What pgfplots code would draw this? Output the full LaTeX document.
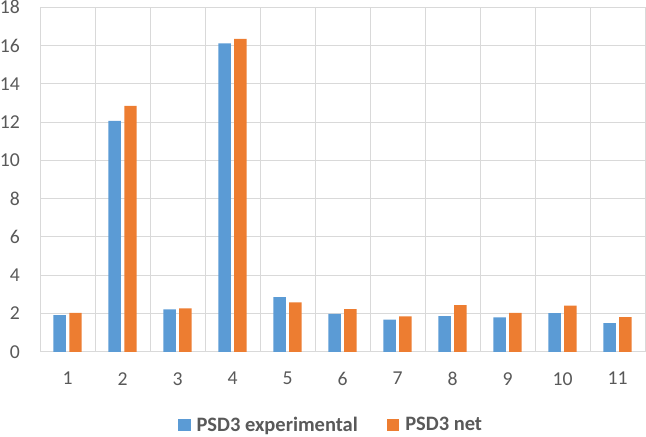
\documentclass[border=0pt]{standalone}
\usepackage{pgfplots}
\pgfplotsset{compat=1.18}
\usepackage{fontspec}
\setmainfont{Carlito}
\definecolor{xblue}{HTML}{5B9BD5}
\definecolor{xorange}{HTML}{ED7D31}
\definecolor{xgrid}{HTML}{D9D9D9}
\definecolor{xtext}{HTML}{595959}
\begin{document}
\begin{tikzpicture}
\begin{axis}[
  scale only axis,
  width=606bp, height=345.2bp,
  xmin=0.5, xmax=11.5,
  ymin=0, ymax=18,
  ybar=3.3bp, bar width=12.5bp,
  xtick={1,...,11},
  minor xtick={0.5,1.5,...,11.5},
  ytick={0,2,...,18},
  xminorgrids, ymajorgrids,
  grid style={xgrid, line width=1bp},
  minor grid style={xgrid, line width=1bp},
  axis line style={xgrid, line width=1bp},
  major tick length=0pt, minor tick length=0pt,
  tick style={draw=none},
  /pgf/number format/assume math mode=true,
  ticklabel style={font=\fontsize{19.8}{23}\selectfont, text=xtext},
  yticklabel style={inner sep=0pt, xshift=-20bp},
  xticklabel style={inner sep=0pt, yshift=-20.3bp},
  legend columns=2,
  legend style={at={(axis description cs:0.481,-0.212)}, anchor=center, draw=none,
    font=\bfseries\fontsize{20.6}{24}\selectfont, text=xtext,
    /tikz/every odd column/.append style={column sep=4bp},
    /tikz/every even column/.append style={column sep=27bp}},
  legend image code/.code={\fill[#1, draw=none] (0bp,-6.25bp) rectangle (12.5bp,6.25bp);},
]
\addplot[fill=xblue, draw=none] coordinates {(1,1.92) (2,12.07) (3,2.22) (4,16.12) (5,2.86) (6,1.99) (7,1.68) (8,1.87) (9,1.80) (10,2.02) (11,1.50)};
\addplot[fill=xorange, draw=none] coordinates {(1,2.04) (2,12.85) (3,2.27) (4,16.35) (5,2.58) (6,2.23) (7,1.85) (8,2.44) (9,2.04) (10,2.41) (11,1.81)};
\legend{PSD3 experimental, PSD3 net}
\end{axis}
\path (current axis.south west) ++(-39bp,-83.5bp) coordinate (bbA);
\path (current axis.north east) ++(1bp,7.3bp) coordinate (bbB);
\path (bbA) rectangle (bbB);
\end{tikzpicture}
\end{document}
